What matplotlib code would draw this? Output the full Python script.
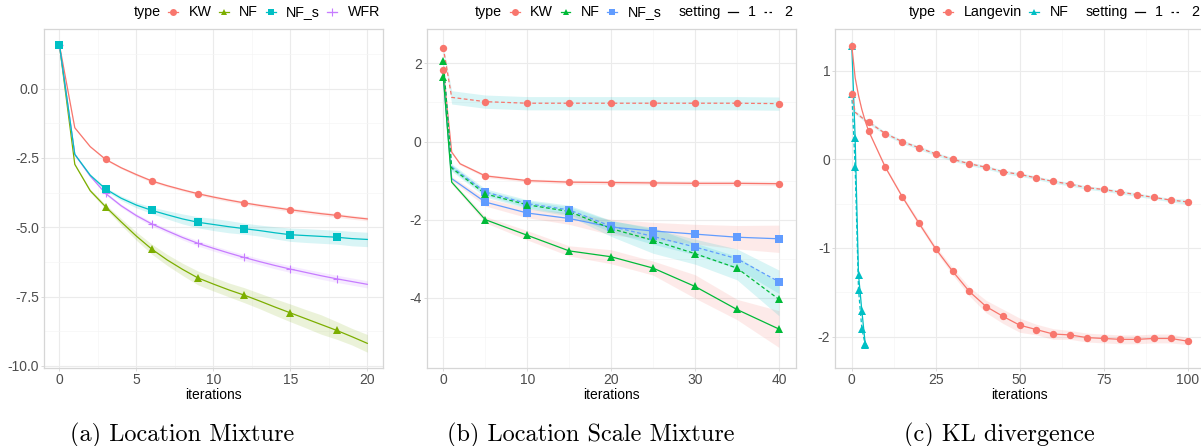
import matplotlib
matplotlib.use("Agg")
import matplotlib.pyplot as plt
import numpy as np
from matplotlib.lines import Line2D
from matplotlib.ticker import FixedLocator
from matplotlib.offsetbox import HPacker, TextArea, DrawingArea, AnchoredOffsetbox

plt.rcParams['font.family'] = ['Liberation Sans', 'DejaVu Sans']
plt.rcParams['axes.unicode_minus'] = False

W, H = 1201, 446

# ggplot hue colours
RED = '#F8766D'
OLIVE = '#7CAE00'
TEAL = '#00BFC4'
PURPLE = '#C77CFF'
GREEN = '#00BA38'
BLUE = '#619CFF'

# ---------------- (a) Location Mixture ----------------
a_iter = list(range(21))
a_kw = [1.59, -1.41, -2.09, -2.55, -2.85, -3.10, -3.33, -3.50, -3.65, -3.79, -3.91,
        -4.02, -4.12, -4.21, -4.29, -4.37, -4.44, -4.51, -4.57, -4.64, -4.70]
a_nf = [1.59, -2.73, -3.68, -4.26, -4.80, -5.32, -5.79, -6.18, -6.52, -6.83, -7.05,
        -7.26, -7.45, -7.66, -7.88, -8.09, -8.30, -8.51, -8.72, -8.95, -9.19]
a_nfs = [1.59, -2.37, -3.12, -3.62, -3.95, -4.20, -4.39, -4.55, -4.70, -4.82, -4.90,
         -4.98, -5.05, -5.12, -5.20, -5.27, -5.30, -5.33, -5.36, -5.41, -5.44]
a_wfr = [1.59, -2.37, -3.15, -3.78, -4.22, -4.58, -4.88, -5.13, -5.37, -5.58, -5.76,
         -5.93, -6.09, -6.24, -6.38, -6.51, -6.63, -6.75, -6.86, -6.96, -7.06]
# ribbon half widths
a_kw_hw = [0.0, 0.03, 0.03, 0.04, 0.04, 0.05, 0.05, 0.05, 0.05, 0.05, 0.06,
           0.06, 0.06, 0.06, 0.06, 0.07, 0.07, 0.07, 0.07, 0.07, 0.07]
a_nf_hw = [0.0, 0.04, 0.06, 0.08, 0.12, 0.15, 0.18, 0.2, 0.22, 0.25, 0.25,
           0.25, 0.27, 0.28, 0.3, 0.32, 0.33, 0.35, 0.32, 0.3, 0.32]
a_nfs_hw = [0.0, 0.04, 0.05, 0.06, 0.08, 0.1, 0.12, 0.15, 0.18, 0.2, 0.22,
            0.22, 0.2, 0.2, 0.22, 0.24, 0.25, 0.25, 0.25, 0.26, 0.26]
a_wfr_hw = [0.0, 0.03, 0.04, 0.05, 0.06, 0.07, 0.08, 0.08, 0.09, 0.1, 0.1,
            0.1, 0.11, 0.11, 0.12, 0.12, 0.12, 0.13, 0.13, 0.13, 0.13]
a_yticks = [-10, -7.5, -5, -2.5, 0]
a_ylabels = ['-10.0', '-7.5', '-5.0', '-2.5', '0.0']
a_xticks = [0, 5, 10, 15, 20]

# ---------------- (b) Location Scale Mixture ----------------
b_x = [0, 1, 5, 10, 15, 20, 25, 30, 35, 40]
b_x_kw1 = [0, 1, 2, 5, 10, 15, 20, 25, 30, 35, 40]
b_kw1 = [1.84, -0.27, -0.57, -0.88, -1.00, -1.04, -1.05, -1.06, -1.07, -1.07, -1.08]
b_kw1_hw = [0.02, 0.03, 0.03, 0.04, 0.04, 0.05, 0.05, 0.05, 0.05, 0.05, 0.05]
b_kw2 = [2.40, 1.13, 1.02, 0.98, 0.98, 0.98, 0.98, 0.98, 0.98, 0.97]
b_kw2_hw = [0.05, 0.17, 0.17, 0.17, 0.17, 0.17, 0.17, 0.17, 0.17, 0.17]
b_nf1 = [1.66, -1.04, -2.00, -2.40, -2.80, -2.95, -3.24, -3.71, -4.30, -4.80]
b_nf1_hw = [0.02, 0.05, 0.08, 0.12, 0.13, 0.18, 0.18, 0.3, 0.26, 0.47]
b_nf2 = [2.07, -0.68, -1.34, -1.62, -1.79, -2.23, -2.53, -2.87, -3.24, -4.04]
b_nf2_hw = [0.02, 0.08, 0.08, 0.1, 0.12, 0.2, 0.33, 0.27, 0.3, 0.42]
b_nfs1 = [1.66, -0.95, -1.55, -1.83, -1.97, -2.19, -2.29, -2.37, -2.45, -2.49]
b_nfs1_hw = [0.02, 0.05, 0.1, 0.12, 0.15, 0.2, 0.22, 0.25, 0.3, 0.35]
b_nfs2 = [2.07, -0.65, -1.29, -1.59, -1.75, -2.17, -2.43, -2.70, -3.00, -3.59]
b_nfs2_hw = [0.02, 0.08, 0.08, 0.1, 0.12, 0.15, 0.2, 0.2, 0.25, 0.3]
b_yticks = [-4, -2, 0, 2]
b_ylabels = ['-4', '-2', '0', '2']
b_xticks = [0, 10, 20, 30, 40]

# ---------------- (c) KL divergence ----------------
c_x_lang = [0, 1, 2, 3, 4] + list(range(5, 101, 5))
c_lang1 = [1.28, 0.92, 0.72, 0.56, 0.43,
           0.32, -0.09, -0.42, -0.72, -1.01, -1.26, -1.49, -1.66, -1.77, -1.87,
           -1.92, -1.97, -1.98, -2.01, -2.02, -2.03, -2.03, -2.02, -2.02, -2.05]
c_lang1_hw = [0.01, 0.01, 0.01, 0.01, 0.01,
              0.01, 0.02, 0.02, 0.03, 0.03, 0.04, 0.05, 0.07, 0.08, 0.08,
              0.06, 0.06, 0.05, 0.05, 0.05, 0.05, 0.05, 0.05, 0.05, 0.04]
c_lang2 = [0.74, 0.53, 0.50, 0.47, 0.44,
           0.42, 0.29, 0.20, 0.13, 0.06, 0.00, -0.05, -0.09, -0.14, -0.17,
           -0.21, -0.25, -0.28, -0.32, -0.34, -0.37, -0.40, -0.43, -0.46, -0.48]
c_lang2_hw = [0.01, 0.02, 0.02, 0.02, 0.02,
              0.02, 0.02, 0.02, 0.02, 0.02, 0.02, 0.02, 0.02, 0.02, 0.02,
              0.02, 0.02, 0.02, 0.02, 0.02, 0.02, 0.02, 0.02, 0.02, 0.03]
c_x_nf = [0, 1, 2, 3, 4]
c_nf1 = [1.28, 0.24, -1.30, -1.71, -2.08]
c_nf2 = [0.74, -0.09, -1.47, -1.91, -2.09]
c_nf_hw = [0.01, 0.02, 0.02, 0.02, 0.02]
c_yticks = [-2, -1, 0, 1]
c_ylabels = ['-2', '-1', '0', '1']
c_xticks = [0, 25, 50, 75, 100]

captions = ['(a) Location Mixture', '(b) Location Scale Mixture', '(c) KL divergence']

DASH = (0, (3, 2))


def px_axes(fig, left, right, top, bottom):
    return fig.add_axes([left / W, 1 - bottom / H, (right - left) / W, (bottom - top) / H])


def style(ax, xlim, ylim, xt, xminor, yt, ylab, yminor):
    ax.set_xlim(xlim)
    ax.set_ylim(ylim)
    ax.xaxis.set_major_locator(FixedLocator(xt))
    ax.xaxis.set_minor_locator(FixedLocator(xminor))
    ax.yaxis.set_major_locator(FixedLocator(yt))
    ax.yaxis.set_minor_locator(FixedLocator(yminor))
    ax.set_xticklabels([str(v) for v in xt])
    ax.set_yticklabels(ylab)
    ax.grid(which='major', color='#EBEBEB', lw=0.8)
    ax.grid(which='minor', color='#F5F5F5', lw=0.5)
    ax.set_axisbelow(True)
    for s in ax.spines.values():
        s.set_color('#D6D6D6')
        s.set_linewidth(0.9)
    ax.tick_params(which='minor', length=0)
    ax.tick_params(which='major', length=2, width=0.6, color='#D6D6D6',
                   labelcolor='#4D4D4D', labelsize=10, pad=1.5)
    ax.set_xlabel('iterations', fontsize=10, labelpad=1)


def series(ax, x, y, hw, line_col, fill_col, marker, ls='-', every=None):
    x = np.asarray(x, float)
    y = np.asarray(y, float)
    hw = np.asarray(hw, float)
    ax.fill_between(x, y - hw, y + hw, color=fill_col, alpha=0.15, lw=0, zorder=1)
    ax.plot(x, y, color=line_col, lw=0.9, ls=ls, zorder=2)
    ax.plot(x, y, color=line_col, lw=0, marker=marker, ms=5.3 if marker != '+' else 5.5,
            mew=0.8 if marker == '+' else 0, markevery=every, zorder=3)


def add_legend(fig, right_px, groups):
    boxes = []
    for title, items in groups:
        parts = [TextArea(title, textprops=dict(fontsize=10.3, color='black'))]
        for label, color, marker, ls in items:
            da = DrawingArea(9, 7, 0, 0)
            da.add_artist(Line2D([1, 8], [3.5, 3.5], color=color, lw=0.9, ls=ls))
            if marker:
                da.add_artist(Line2D([4.5], [3.5], color=color, lw=0, marker=marker,
                                     ms=5 if marker != '+' else 5.5,
                                     mew=0.8 if marker == '+' else 0))
            txt = TextArea(label, textprops=dict(fontsize=10.3, color='black'))
            parts.append(HPacker(children=[da, txt], sep=6.5, align='center'))
        boxes.append(HPacker(children=parts, sep=4.5, align='center'))
    box = HPacker(children=boxes, sep=12, align='center')
    anc = AnchoredOffsetbox(loc='center right', child=box, pad=0, borderpad=0, frameon=False,
                            bbox_to_anchor=(right_px / W, 1 - 12 / H),
                            bbox_transform=fig.transFigure)
    fig.add_artist(anc)


fig = plt.figure(figsize=(W / 100, H / 100), dpi=100)

# ---- panel a
ax = px_axes(fig, 44, 382.7, 29, 368)
ev3 = [v % 3 == 0 for v in a_iter]
series(ax, a_iter, a_kw, a_kw_hw, RED, RED, 'o', every=ev3)
series(ax, a_iter, a_nf, a_nf_hw, OLIVE, OLIVE, '^', every=ev3)
series(ax, a_iter, a_wfr, a_wfr_hw, PURPLE, PURPLE, '+', every=ev3)
series(ax, a_iter, a_nfs, a_nfs_hw, TEAL, TEAL, 's', every=ev3)
style(ax, (-1, 21), (-10.08, 2.155), a_xticks, [2.5, 7.5, 12.5, 17.5],
      a_yticks, a_ylabels, [-8.75, -6.25, -3.75, -1.25, 1.25])
add_legend(fig, 380, [('type', [('KW', RED, 'o', '-'), ('NF', OLIVE, '^', '-'),
                                ('NF_s', TEAL, 's', '-'), ('WFR', PURPLE, '+', '-')])])

# ---- panel b
ax = px_axes(fig, 426.5, 795.7, 29, 367.7)
ev5 = [v % 5 == 0 for v in b_x]
ev5s = [v % 5 == 0 and v > 0 for v in b_x]   # NF_s start hidden under NF
ev5k = [v % 5 == 0 for v in b_x_kw1]
series(ax, b_x_kw1, b_kw1, b_kw1_hw, RED, RED, 'o', every=ev5k)
series(ax, b_x, b_kw2, b_kw2_hw, RED, TEAL, 'o', ls=DASH, every=ev5)
series(ax, b_x, b_nfs1, b_nfs1_hw, BLUE, RED, 's', every=ev5s)
series(ax, b_x, b_nfs2, b_nfs2_hw, BLUE, TEAL, 's', ls=DASH, every=ev5s)
series(ax, b_x, b_nf1, b_nf1_hw, GREEN, RED, '^', every=ev5)
series(ax, b_x, b_nf2, b_nf2_hw, GREEN, TEAL, '^', ls=DASH, every=ev5)
style(ax, (-2, 42), (-5.79, 2.88), b_xticks, [5, 15, 25, 35],
      b_yticks, b_ylabels, [-5, -3, -1, 1])
add_legend(fig, 792, [('type', [('KW', RED, 'o', '-'), ('NF', GREEN, '^', '-'),
                                ('NF_s', BLUE, 's', '-')]),
                      ('setting', [('1', 'black', None, '-'), ('2', 'black', None, (0, (2, 2)))])])

# ---- panel c
ax = px_axes(fig, 835, 1204.3, 29, 368)
evc = [v % 5 == 0 for v in c_x_lang]
series(ax, c_x_nf, c_nf1, c_nf_hw, TEAL, RED, '^')
series(ax, c_x_nf, c_nf2, c_nf_hw, TEAL, TEAL, '^', ls=DASH)
series(ax, c_x_lang, c_lang1, c_lang1_hw, RED, RED, 'o', every=evc)
series(ax, c_x_lang, c_lang2, c_lang2_hw, RED, TEAL, 'o', ls=DASH, every=evc)
style(ax, (-5, 105), (-2.353, 1.469), c_xticks, [12.5, 37.5, 62.5, 87.5],
      c_yticks, c_ylabels, [-1.5, -0.5, 0.5])
add_legend(fig, 1199, [('type', [('Langevin', RED, 'o', '-'), ('NF', TEAL, '^', '-')]),
                       ('setting', [('1', 'black', None, '-'), ('2', 'black', None, (0, (2, 2)))])])

# captions
for cx, cap in zip([182.5, 590.8, 999], captions):
    fig.text(cx / W, 1 - 441 / H, cap, family='cmr10', fontsize=17.5,
             ha='center', va='baseline')

fig.savefig('out.png', dpi=100)
